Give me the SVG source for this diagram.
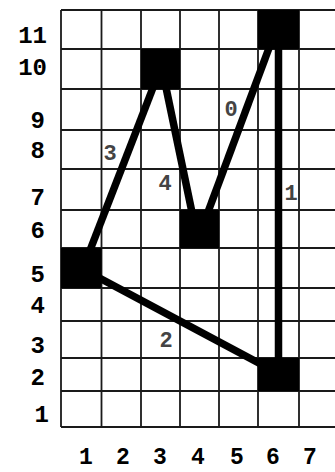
<svg xmlns="http://www.w3.org/2000/svg" width="335" height="472" viewBox="0 0 335 472">
<style>
.grid{stroke:#1a1a1a;stroke-width:1.8;fill:none}
.node{fill:#000}
.edge{stroke:#000;stroke-width:7.5;fill:none}
.ax{font-family:"Liberation Mono","DejaVu Sans Mono",monospace;font-weight:bold;font-size:24px;fill:#000}
.el{font-family:"Liberation Mono","DejaVu Sans Mono",monospace;font-weight:bold;font-size:22px;fill:#444}
</style>
<rect width="335" height="472" fill="#fff"/>
<g id="grid" class="grid">
<path d="M61 10V427M101.5 10V427M141 10V427M180 10V427M219 10V427M258 10V427M299 10V427"/>
<path d="M61 10H335M61 49H335M61 89H335M61 130H335M61 169H335M61 210H335M61 248H335M61 288H335M61 321H335M61 358H335M61 391H335M61 427H335"/>
</g>
<g id="y-axis" class="ax" text-anchor="end">
<text x="47" y="43">11</text>
<text x="47" y="75">10</text>
<text x="45" y="128">9</text>
<text x="45" y="158">8</text>
<text x="45" y="205">7</text>
<text x="45" y="238">6</text>
<text x="45" y="282">5</text>
<text x="45" y="313">4</text>
<text x="45" y="353">3</text>
<text x="45" y="385">2</text>
<text x="49" y="422">1</text>
</g>
<g id="x-axis" class="ax" text-anchor="middle" style="font-size:23px">
<text x="86" y="464">1</text>
<text x="123" y="464">2</text>
<text x="160" y="464">3</text>
<text x="198" y="464">4</text>
<text x="237" y="464">5</text>
<text x="273" y="464">6</text>
<text x="310" y="464">7</text>
</g>
<g id="connectors">
<g id="e0"><line class="edge" x1="272" y1="40" x2="205" y2="220"/><text class="el" x="231" y="116" text-anchor="middle">0</text></g>
<g id="e1"><line class="edge" x1="278.5" y1="40" x2="278.5" y2="370"/><text class="el" x="291" y="200" text-anchor="middle">1</text></g>
<g id="e2"><line class="edge" x1="90" y1="273" x2="270" y2="369"/><text class="el" x="166" y="347" text-anchor="middle">2</text></g>
<g id="e3"><line class="edge" x1="156" y1="80" x2="87" y2="258"/><text class="el" x="110" y="160" text-anchor="middle">3</text></g>
<g id="e4"><line class="edge" x1="164" y1="78" x2="194" y2="222"/><text class="el" x="165" y="190" text-anchor="middle">4</text></g>
</g>
<g id="n11"><rect class="node" x="258" y="10" width="41" height="39"/></g>
<g id="n10"><rect class="node" x="141" y="49" width="39" height="40"/></g>
<g id="n6"><rect class="node" x="180" y="210" width="39" height="38"/></g>
<g id="n5"><rect class="node" x="61" y="248" width="40.5" height="40"/></g>
<g id="n2"><rect class="node" x="258" y="358" width="41" height="33"/></g>
</svg>
